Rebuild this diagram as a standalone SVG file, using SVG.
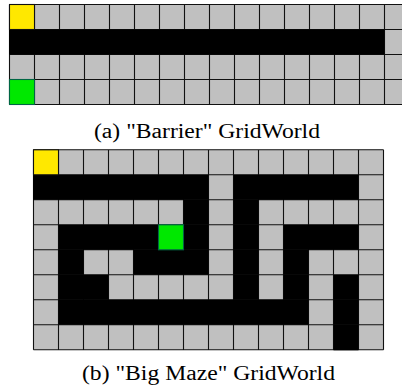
<svg xmlns="http://www.w3.org/2000/svg" width="402" height="388" viewBox="0 0 402 388">
  <defs>
    <style>
      .floor { fill: #c0c0c0; }
      .grid { stroke: #111; stroke-width: 1.1; fill: none; }
      .wall { fill: #000; }
      .start { fill: #ffe800; stroke: #111; stroke-width: 1.1; }
      .goal { fill: #00e800; stroke: #064; stroke-width: 1.1; }
      .caption { font-family: "Liberation Serif", "Times New Roman", serif; font-size: 20px; fill: #000; }
    </style>
  </defs>
  <rect width="402" height="388" fill="#fff"/>

  <!-- (a) Barrier world: 16 x 4 cells of 25px -->
  <g id="barrier">
    <rect class="floor" x="9.5" y="4.5" width="400" height="100"/>
    <path class="grid" d="M9.5 4.5V104.5M34.5 4.5V104.5M59.5 4.5V104.5M84.5 4.5V104.5M109.5 4.5V104.5M134.5 4.5V104.5M159.5 4.5V104.5M184.5 4.5V104.5M209.5 4.5V104.5M234.5 4.5V104.5M259.5 4.5V104.5M284.5 4.5V104.5M309.5 4.5V104.5M334.5 4.5V104.5M359.5 4.5V104.5M384.5 4.5V104.5M9.5 4.5H409.5M9.5 29.5H409.5M9.5 54.5H409.5M9.5 79.5H409.5M9.5 104.5H409.5"/>
    <rect class="wall" x="9" y="29.5" width="375.5" height="25"/>
    <rect class="start" x="9.5" y="4.5" width="25" height="25"/>
    <rect class="goal" x="9.5" y="79.5" width="25" height="25"/>
  </g>
  <text class="caption" x="94" y="137.5" textLength="226" lengthAdjust="spacingAndGlyphs">(a) "Barrier" GridWorld</text>

  <!-- (b) Big maze world: 14 x 8 cells of 25px -->
  <g id="maze">
    <rect class="floor" x="33.5" y="149.8" width="350" height="200"/>
    <path class="grid" d="M33.5 149.8V349.8M58.5 149.8V349.8M83.5 149.8V349.8M108.5 149.8V349.8M133.5 149.8V349.8M158.5 149.8V349.8M183.5 149.8V349.8M208.5 149.8V349.8M233.5 149.8V349.8M258.5 149.8V349.8M283.5 149.8V349.8M308.5 149.8V349.8M333.5 149.8V349.8M358.5 149.8V349.8M383.5 149.8V349.8M33.5 149.8H383.5M33.5 174.8H383.5M33.5 199.8H383.5M33.5 224.8H383.5M33.5 249.8H383.5M33.5 274.8H383.5M33.5 299.8H383.5M33.5 324.8H383.5M33.5 349.8H383.5"/>
    <g class="wall">
      <!-- row 1 -->
      <rect x="33" y="174.8" width="175.5" height="25"/>
      <rect x="233.5" y="174.8" width="125" height="25"/>
      <!-- row 2 -->
      <rect x="183.5" y="199.8" width="25" height="25"/>
      <rect x="233.5" y="199.8" width="25" height="25"/>
      <!-- row 3 -->
      <rect x="58.5" y="224.8" width="100" height="25"/>
      <rect x="183.5" y="224.8" width="25" height="25"/>
      <rect x="233.5" y="224.8" width="25" height="25"/>
      <rect x="283.5" y="224.8" width="75" height="25"/>
      <!-- row 4 -->
      <rect x="58.5" y="249.8" width="25" height="25"/>
      <rect x="133.5" y="249.8" width="75" height="25"/>
      <rect x="233.5" y="249.8" width="25" height="25"/>
      <rect x="283.5" y="249.8" width="25" height="25"/>
      <!-- row 5 -->
      <rect x="58.5" y="274.8" width="50" height="25"/>
      <rect x="233.5" y="274.8" width="25" height="25"/>
      <rect x="283.5" y="274.8" width="25" height="25"/>
      <rect x="333.5" y="274.8" width="25" height="25"/>
      <!-- row 6 -->
      <rect x="58.5" y="299.8" width="250" height="25"/>
      <rect x="333.5" y="299.8" width="25" height="25"/>
      <!-- row 7 -->
      <rect x="333.5" y="324.8" width="25" height="25.5"/>
    </g>
    <rect class="start" x="33.5" y="149.8" width="25" height="25"/>
    <rect class="goal" x="158.5" y="224.8" width="25" height="25"/>
  </g>
  <text class="caption" x="82" y="379.5" textLength="253" lengthAdjust="spacingAndGlyphs">(b) "Big Maze" GridWorld</text>
</svg>
